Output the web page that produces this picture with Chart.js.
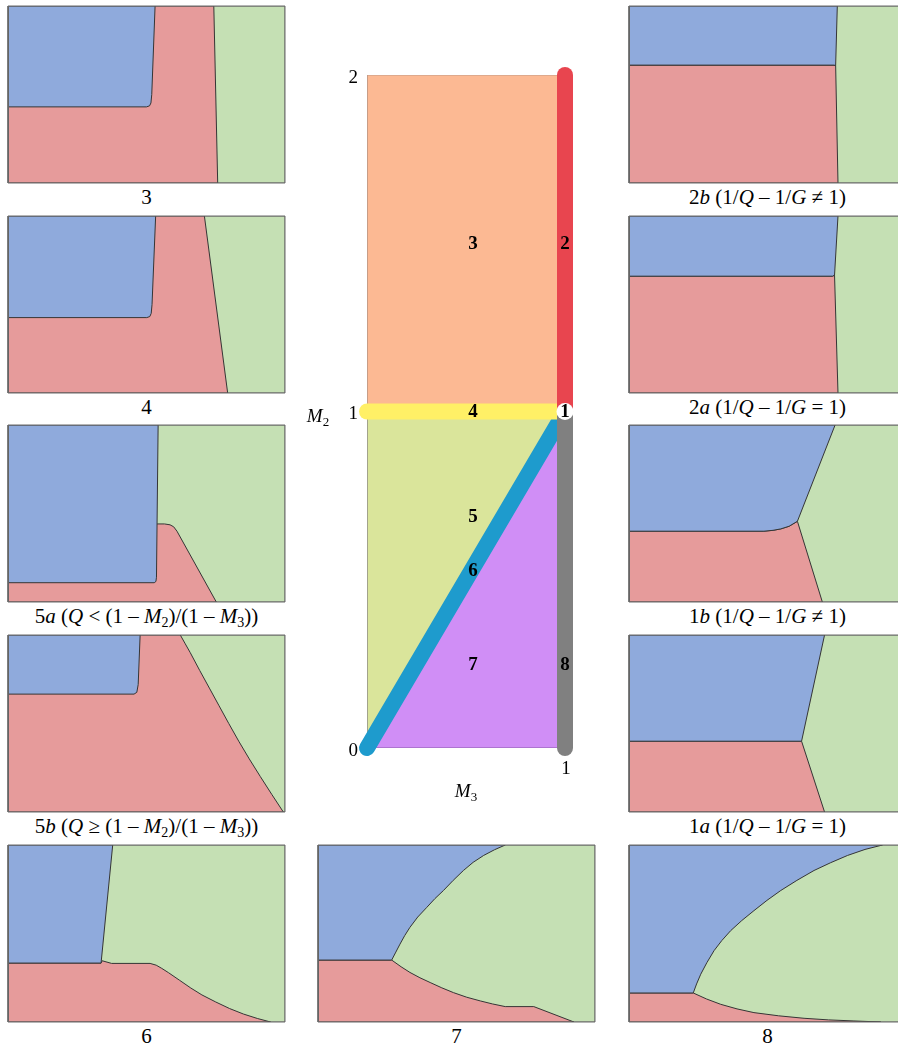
<!DOCTYPE html>
<html><head><meta charset="utf-8">
<script src="https://cdn.jsdelivr.net/npm/chart.js@4.4.1/dist/chart.umd.min.js"></script>
<style>
html,body{margin:0;padding:0;background:#fff;}
body{width:898px;height:1043px;overflow:hidden;position:relative;font-family:"Liberation Serif","Times New Roman",serif;}
canvas{position:absolute;}
.lab{position:absolute;font-size:21px;line-height:24px;height:24px;text-align:center;white-space:nowrap;color:#000;}
.lab sub{font-size:14px;line-height:0;vertical-align:-4px;}
</style></head>
<body>
<script>
// ---------- DATA: region polygons of each small panel (x,y in 0..1) ----------
const panelIds = ['3','4','5a','5b','6','7','8','2b','2a','1b','1a'];
const captions = [
  '3',
  '4',
  '5<i>a</i> (<i>Q</i> &lt; (1 – <i>M</i><sub>2</sub>)/(1 – <i>M</i><sub>3</sub>))',
  '5<i>b</i> (<i>Q</i> ≥ (1 – <i>M</i><sub>2</sub>)/(1 – <i>M</i><sub>3</sub>))',
  '6','7','8',
  '2<i>b</i> (1/<i>Q</i> – 1/<i>G</i> ≠ 1)',
  '2<i>a</i> (1/<i>Q</i> – 1/<i>G</i> = 1)',
  '1<i>b</i> (1/<i>Q</i> – 1/<i>G</i> ≠ 1)',
  '1<i>a</i> (1/<i>Q</i> – 1/<i>G</i> = 1)'
];
const blue3 = [[0,0.43],[0.50,0.43],[0.511,0.436],[0.516,0.452],[0.519,0.50],[0.531,1],[0,1]];
const red3  = [[0,0],[0.757,0],[0.743,1],[0,1]];
const blue4 = [[0,0.426],[0.501,0.426],[0.512,0.432],[0.517,0.45],[0.520,0.50],[0.533,1],[0,1]];
const red4  = [[0,0],[0.793,0],[0.709,1],[0,1]];
const blue5a = [[0,0.109],[0.528,0.109],[0.534,0.116],[0.536,0.14],[0.542,1],[0,1]];
const red5a  = [[0,0],[0.752,0],[0.61,0.40],[0.598,0.425],[0.585,0.436],[0.565,0.441],[0.54,0.441],[0,0.441]];
const blue5b = [[0,0.666],[0.455,0.666],[0.465,0.676],[0.470,0.72],[0.477,1],[0,1]];
const red5b  = [[0,0],[0.994,0],[0.952,0.1],[0.911,0.2],[0.871,0.3],[0.833,0.4],[0.797,0.5],[0.762,0.6],[0.727,0.7],[0.692,0.8],[0.658,0.9],[0.64,0.95],[0.622,1],[0,1]];
const blue6 = [[0,0.333],[0.336,0.333],[0.378,1],[0,1]];
const red6  = [[0,0],[0.948,0],[0.90,0.02],[0.85,0.045],[0.80,0.076],[0.75,0.113],[0.70,0.153],[0.66,0.192],[0.62,0.235],[0.58,0.278],[0.555,0.303],[0.535,0.321],[0.513,0.331],[0.374,0.331],[0.34,0.346],[0.336,0.333],[0,0.333]];
const blue7 = [[0,0.350],[0.266,0.350],[0.281,0.395],[0.296,0.440],[0.313,0.488],[0.332,0.535],[0.360,0.593],[0.393,0.648],[0.422,0.697],[0.453,0.743],[0.488,0.800],[0.525,0.856],[0.560,0.902],[0.598,0.941],[0.637,0.973],[0.676,1],[0,1]];
const red7  = [[0,0],[0.924,0],[0.779,0.087],[0.676,0.087],[0.63,0.102],[0.586,0.119],[0.537,0.14],[0.489,0.166],[0.447,0.193],[0.405,0.223],[0.368,0.25],[0.332,0.280],[0.30,0.312],[0.266,0.350],[0,0.350]];
const blue8 = [[0,0.164],[0.232,0.164],[0.244,0.215],[0.259,0.270],[0.281,0.335],[0.307,0.403],[0.335,0.46],[0.367,0.516],[0.407,0.573],[0.451,0.629],[0.498,0.687],[0.548,0.743],[0.606,0.80],[0.668,0.856],[0.728,0.90],[0.789,0.941],[0.852,0.975],[0.915,1],[0,1]];
const red8  = [[0,0],[0.909,0],[0.812,0.006],[0.72,0.012],[0.632,0.021],[0.54,0.035],[0.451,0.053],[0.39,0.074],[0.331,0.10],[0.28,0.13],[0.232,0.164],[0,0.164]];
const blue2b = [[0,0.666],[0.74,0.666],[0.746,0.664],[0.752,1],[0,1]];
const red2b  = [[0,0],[0.7545,0],[0.746,0.664],[0.74,0.666],[0,0.666]];
const blue2a = [[0,0.66],[0.735,0.66],[0.742,0.666],[0.7545,1],[0,1]];
const red2a  = [[0,0],[0.7545,0],[0.742,0.666],[0.735,0.66],[0,0.66]];
const blue1b = [[0,0.40],[0.487,0.40],[0.52,0.405],[0.548,0.413],[0.578,0.428],[0.608,0.456],[0.744,1],[0,1]];
const red1b  = [[0,0],[0.698,0],[0.608,0.456],[0.578,0.428],[0.548,0.413],[0.52,0.405],[0.487,0.40],[0,0.40]];
const blue1a = [[0,0.40],[0.623,0.40],[0.706,1],[0,1]];
const red1a  = [[0,0],[0.706,0],[0.623,0.40],[0,0.40]];
const fullRect = [[0,0],[1,0],[1,1],[0,1]];

const bluePolys = [blue3,blue4,blue5a,blue5b,blue6,blue7,blue8,blue2b,blue2a,blue1b,blue1a];
const redPolys  = [red3,red4,red5a,red5b,red6,red7,red8,red2b,red2a,red1b,red1a];

// ---------- DATA: central (M3, M2) parameter map ----------
const m3Ticks = [1];
const m2Ticks = [0,1,2];
const region3 = [[0,1],[1,1],[1,2],[0,2]];
const region5 = [[0,0],[1,1],[0,1]];
const region7 = [[0,0],[1,0],[1,1]];
const line2 = [[1,1],[1,2]];
const line4 = [[0,1],[1,1]];
const line6 = [[0,0],[1,1]];
const line8 = [[1,0],[1,1]];
const point1 = [[1,1]];
const regionLabels = ['3','2','4','1','5','6','7','8'];
const regionLabelM3 = [0.535,1,0.535,1,0.535,0.535,0.535,1];
const regionLabelM2 = [1.5,1.5,1,1,0.69,0.53,0.25,0.25];

// ---------- styling / layout ----------
const BLUE='#8FAADC', RED='#E69B9B', GREEN='#C5E0B4', EDGE='#353535', FRAME='#6a6a6a';
const PW=277, PH=177;
const panelPos = [[8,6],[8,216],[8,425],[8,635],[8,845],[318,845],[629,845],[629,6],[629,216],[629,425],[629,635]];

function pts(a, close){
  const r = a.map(p=>({x:p[0],y:p[1]}));
  if(close) r.push({x:a[0][0],y:a[0][1]});
  return r;
}
function poly(a, fillColor, lineColor, lw){
  return {data:pts(a,true), fill:'shape', backgroundColor:fillColor, borderColor:lineColor,
          borderWidth:lw, pointRadius:0, tension:0, borderJoinStyle:'round'};
}
const baseOpts = (pad)=>({
  responsive:false, animation:false, events:[], devicePixelRatio:1,
  layout:{padding:pad},
  plugins:{legend:{display:false}, tooltip:{enabled:false}, title:{display:false}},
});

panelIds.forEach((id,i)=>{
  const [L,T] = panelPos[i];
  const c = document.createElement('canvas');
  c.width = PW+4; c.height = PH+4;
  c.style.left = (L-2)+'px'; c.style.top = (T-2)+'px';
  c.style.width = (PW+4)+'px'; c.style.height = (PH+4)+'px';
  document.body.appendChild(c);
  const o = baseOpts(2);
  o.scales = {x:{type:'linear',min:0,max:1,display:false}, y:{type:'linear',min:0,max:1,display:false}};
  new Chart(c, {type:'line', data:{datasets:[
    {data:pts(fullRect,true), fill:false, borderColor:FRAME, borderWidth:1, pointRadius:0, tension:0, clip:false},
    poly(bluePolys[i], BLUE, EDGE, 1),
    poly(redPolys[i], RED, EDGE, 1),
    poly(fullRect, GREEN, FRAME, 1)
  ]}, options:o});
  const d = document.createElement('div');
  d.className='lab';
  d.style.left = L+'px'; d.style.width = PW+'px'; d.style.top = (T+PH+2)+'px';
  d.innerHTML = captions[i];
  document.body.appendChild(d);
});

// ---------- central chart ----------
function drawSub(ctx, base, sub, cx, cy){
  ctx.font = 'italic 19px "Liberation Serif"';
  const w1 = ctx.measureText(base).width;
  ctx.font = '13px "Liberation Serif"';
  const w2 = ctx.measureText(sub).width;
  const x0 = cx - (w1+w2)/2;
  ctx.textAlign='left'; ctx.textBaseline='alphabetic';
  ctx.font = 'italic 19px "Liberation Serif"';
  ctx.fillText(base, x0, cy+6);
  ctx.font = '13px "Liberation Serif"';
  ctx.fillText(sub, x0+w1, cy+10);
}
const centerText = {
  id:'centerText',
  afterDatasetsDraw(chart){
    const {ctx, scales:{x,y}} = chart;
    ctx.save();
    ctx.fillStyle='#000';
    ctx.textAlign='center'; ctx.textBaseline='middle';
    ctx.font='bold 19px "Liberation Serif"';
    regionLabels.forEach((t,i)=>ctx.fillText(t, x.getPixelForValue(regionLabelM3[i]), y.getPixelForValue(regionLabelM2[i])+1));
    ctx.font='19px "Liberation Serif"';
    ctx.textAlign='right';
    m2Ticks.forEach(v=>ctx.fillText(String(v), x.left-9, y.getPixelForValue(v)+3));
    ctx.textAlign='center';
    m3Ticks.forEach(v=>ctx.fillText(String(v), x.getPixelForValue(v)+1, y.bottom+21));
    drawSub(ctx,'M','2', x.left-49, y.getPixelForValue(1)+4);
    drawSub(ctx,'M','3', (x.left+x.right)/2, y.bottom+43);
    ctx.restore();
  }
};
function thick(a, color){
  return {data:pts(a,false), fill:false, borderColor:color, borderWidth:16, borderCapStyle:'round',
          pointRadius:0, tension:0, clip:false};
}
(function(){
  const c = document.createElement('canvas');
  c.width=300; c.height=770;
  c.style.left='300px'; c.style.top='50px'; c.style.width='300px'; c.style.height='770px';
  document.body.appendChild(c);
  const o = baseOpts({left:67,right:35,top:25,bottom:72});
  o.scales = {x:{type:'linear',min:0,max:1,display:false}, y:{type:'linear',min:0,max:2,display:false}};
  new Chart(c, {type:'line', data:{datasets:[
    {data:pts(point1,false), showLine:false, pointRadius:8.5, pointBackgroundColor:'#ffffff', pointBorderWidth:0, clip:false},
    thick(line8,'#808080'),
    thick(line2,'#E8454F'),
    thick(line4,'#FFF066'),
    thick(line6,'#1E9BCD'),
    poly(region3,'#FCB993','#C09A85',1),
    poly(region5,'#DAE59B','#9A9A8A',1),
    poly(region7,'#D08EF6','#8A5AAA',1)
  ]}, options:o, plugins:[centerText]});
})();
</script>
</body></html>
